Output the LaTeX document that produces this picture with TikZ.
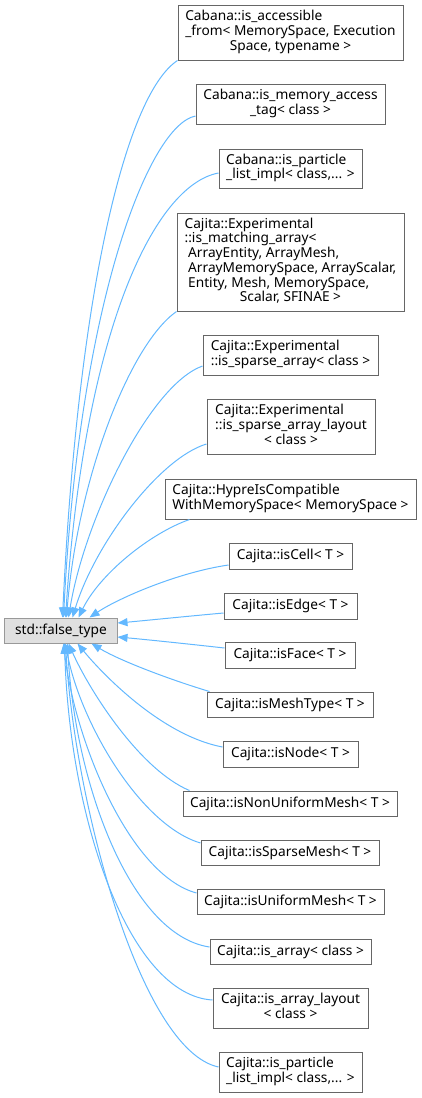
\documentclass[tikz,border=0pt]{standalone}
\usepackage{fontspec}
\setmainfont{Noto Sans}
\usetikzlibrary{arrows.meta,calc}
\definecolor{clsborder}{HTML}{666666}
\definecolor{rootborder}{HTML}{999999}
\definecolor{rootfill}{HTML}{E0E0E0}
\definecolor{edgeblue}{HTML}{63B8FF}
\newcommand\mytab[1]{\begin{tabular}{@{}l@{}}#1\end{tabular}}
\newcommand\mylast[1]{\multicolumn{1}{@{}c@{}}{#1}}
\begin{document}
\begin{tikzpicture}[x=1bp,y=-1bp,
  cls/.style={draw=clsborder, fill=white, line width=1bp, inner sep=0pt,
    font=\fontsize{13.7bp}{14.5bp}\selectfont},
  rootcls/.style={cls, draw=rootborder, fill=rootfill},
  sz/.style 2 args={minimum width=#1bp, minimum height=#2bp},
  inh/.style={draw=edgeblue, line width=1bp, -{Triangle[length=10bp,width=8bp]}}]
\useasboundingbox (0,0) rectangle (421,1098);

\node[rootcls, sz={112}{25}] (ft) at (61,630.5) {std::false\_type};

\node[cls, sz={225}{55}] (acc) at (290.5,32.5) {\mytab{Cabana::is\_accessible\\\_from< MemorySpace, Execution\\\mylast{Space, typename >}}};
\node[cls, sz={189}{40}] (mat) at (290.5,104) {\mytab{Cabana::is\_memory\_access\\\mylast{\_tag< class >}}};
\node[cls, sz={143}{39}] (pli1) at (290.5,168.5) {\mytab{Cabana::is\_particle\\\_list\_impl< class,... >}};
\node[cls, sz={227}{98}] (match) at (290.5,262) {\mytab{Cajita::Experimental\\::is\_matching\_array<\\\ ArrayEntity, ArrayMesh,\\\ ArrayMemorySpace, ArrayScalar,\\\ Entity, Mesh, MemorySpace,\\\mylast{Scalar, SFINAE >}}};
\node[cls, sz={175}{40}] (spa) at (290.5,355) {\mytab{Cajita::Experimental\\::is\_sparse\_array< class >}};
\node[cls, sz={168}{55}] (spal) at (291,426.5) {\mytab{Cajita::Experimental\\::is\_sparse\_array\_layout\\\mylast{< class >}}};
\node[cls, sz={251}{40}] (hypre) at (290.5,499) {\mytab{Cajita::HypreIsCompatible\\WithMemorySpace< MemorySpace >}};
\node[cls, sz={123}{26}] (cell) at (290.5,556) {Cajita::isCell< T >};
\node[cls, sz={133}{26}] (edge) at (290.5,606) {Cajita::isEdge< T >};
\node[cls, sz={130}{26}] (face) at (290,655) {Cajita::isFace< T >};
\node[cls, sz={166}{25}] (mtype) at (290,704.5) {Cajita::isMeshType< T >};
\node[cls, sz={135}{26}] (nodec) at (290.5,754) {Cajita::isNode< T >};
\node[cls, sz={214}{25}] (nonuni) at (290,803.5) {Cajita::isNonUniformMesh< T >};
\node[cls, sz={178}{25}] (smesh) at (290,852.5) {Cajita::isSparseMesh< T >};
\node[cls, sz={187}{25}] (uni) at (290.5,901.5) {Cajita::isUniformMesh< T >};
\node[cls, sz={161}{25}] (arr) at (290.5,951.5) {Cajita::is\_array< class >};
\node[cls, sz={155}{40}] (arrl) at (290.5,1008) {\mytab{Cajita::is\_array\_layout\\\mylast{< class >}}};
\node[cls, sz={143}{40}] (pli2) at (290.5,1072) {\mytab{Cajita::is\_particle\\\_list\_impl< class,... >}};

\draw[inh] (acc.south west) .. controls +(-53,35) and +(15,-318) .. ($(ft.north west)+(58,0)$);
\draw[inh] ($(mat.west)+(0,12)$) .. controls +(-46,9) and +(16,-318) .. ($(ft.north west)+(59,0)$);
\draw[inh] ($(pli1.west)+(0,4.5)$) .. controls +(-64,12) and +(19,-288) .. ($(ft.north west)+(61,0)$);
\draw[inh] (match.south west) .. controls +(-47,33) and +(11,-138) .. ($(ft.north west)+(62,0)$);
\draw[inh] ($(spa.west)+(0,11)$) .. controls +(-53,19) and +(16,-98) .. ($(ft.north west)+(64,0)$);
\draw[inh] ($(spal.west)+(0,17.5)$) .. controls +(-47,14) and +(22,-73) .. ($(ft.north west)+(68,0)$);
\draw[inh] ($(hypre.south west)+(25,0)$) .. controls +(-40,14) and +(21,-43) .. ($(ft.north west)+(74,0)$);
\draw[inh] ($(cell.west)+(0,9)$) .. controls +(-49,7) and +(30,-20) .. ($(ft.north west)+(85,0)$);
\draw[inh] ($(edge.west)+(0,7)$) .. controls +(-44,4) and +(23,-2) .. ($(ft.east)+(0,-7.5)$);
\draw[inh] ($(face.west)+(0,-7)$) .. controls +(-45,-5) and +(23,2) .. ($(ft.east)+(0,6.5)$);
\draw[inh] ($(mtype.north west)+(3,0)$) .. controls +(-40,-12) and +(28,17) .. ($(ft.south west)+(87,0)$);
\draw[inh] ($(nodec.west)+(0,-7)$) .. controls +(-63,-12) and +(22,27) .. ($(ft.south west)+(73,0)$);
\draw[inh] ($(nonuni.north west)+(7,0)$) .. controls +(-50,-21) and +(21,47) .. ($(ft.south west)+(64,0)$);
\draw[inh] ($(smesh.west)+(0,-9.5)$) .. controls +(-61,-18) and +(14,77) .. ($(ft.south west)+(61,0)$);
\draw[inh] ($(uni.west)+(0,-8.5)$) .. controls +(-67,-18) and +(11,97) .. ($(ft.south west)+(59,0)$);
\draw[inh] ($(arr.west)+(0,-4.5)$) .. controls +(-80,-12) and +(7,137) .. ($(ft.south west)+(63,0)$);
\draw[inh] ($(arrl.west)+(0,-8)$) .. controls +(-83,-5) and +(5,177) .. ($(ft.south west)+(60,0)$);
\draw[inh] ($(pli2.west)+(0,-5)$) .. controls +(-79,-17) and +(9,157) .. ($(ft.south west)+(61,0)$);
\end{tikzpicture}
\end{document}
